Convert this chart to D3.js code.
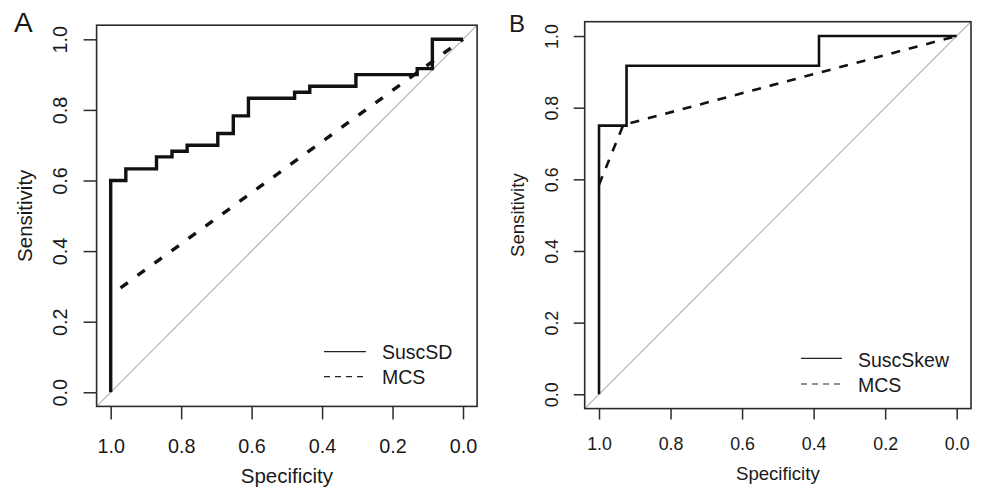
<!DOCTYPE html>
<html>
<head>
<meta charset="utf-8">
<script src="https://cdn.jsdelivr.net/npm/d3@7"></script>
<style>
    body { margin: 0; background: #fff; }
    svg text { font-family: "Liberation Sans", Arial, sans-serif; fill: #1a1a1a; }
</style>
</head>
<body>
<div id="roc"></div>
<script>
"use strict";

/***** data *****/

const tickValues = [1.0, 0.8, 0.6, 0.4, 0.2, 0.0];
const tickLabels = ["1.0", "0.8", "0.6", "0.4", "0.2", "0.0"];

// panel A : SuscSD vs MCS
const suscSdSpec = [1.0, 1.0, 0.957, 0.957, 0.870, 0.870, 0.826, 0.826, 0.783, 0.783, 0.696, 0.696,
                    0.652, 0.652, 0.609, 0.609, 0.478, 0.478, 0.435, 0.435, 0.304, 0.304, 0.130, 0.130,
                    0.087, 0.087, 0.0];
const suscSdSens = [0.0, 0.6, 0.6, 0.633, 0.633, 0.667, 0.667, 0.683, 0.683, 0.70, 0.70, 0.733,
                    0.733, 0.783, 0.783, 0.833, 0.833, 0.850, 0.850, 0.867, 0.867, 0.90, 0.90, 0.917,
                    0.917, 1.0, 1.0];
const mcsASpec = [0.972, 0.0];
const mcsASens = [0.296, 1.0];

// panel B : SuscSkew vs MCS
const suscSkewSpec = [1.0, 1.0, 0.923, 0.923, 0.385, 0.385, 0.0];
const suscSkewSens = [0.0, 0.75, 0.75, 0.917, 0.917, 1.0, 1.0];
const mcsBSpec = [1.0, 0.932, 0.0];
const mcsBSens = [0.585, 0.752, 1.0];

const legendA = ["SuscSD", "MCS"];
const legendB = ["SuscSkew", "MCS"];


/***** plot *****/

let svg = d3.select("#roc")
    .append("svg")
    .attr("width", 981)
    .attr("height", 493);

const panels = [
    {
        letter: "A", letterX: 14, letterY: 32, letterSize: 28,
        x: [96.6, 477.1], y: [406.4, 25.2],
        tickLen: 13, tickFont: 19.8, labelFont: 20.5,
        xTickOff: 46.8, yTickOff: 29.5, xLabOff: 76.5, yLabOff: 65,
        curveW: 3.4, dash: "9,12",
        series: [[suscSdSpec, suscSdSens], [mcsASpec, mcsASens]],
        legend: legendA, legX: [324, 366, 382], legY: [351.7, 376.7], legDy: 7.6, legFont: 19.5
    },
    {
        letter: "B", letterX: 509, letterY: 32, letterSize: 24,
        x: [584.7, 971], y: [408.6, 21.7],
        tickLen: 11, tickFont: 17.8, labelFont: 18.6,
        xTickOff: 41.5, yTickOff: 26.5, xLabOff: 71, yLabOff: 61,
        curveW: 2.6, dash: "9,9",
        series: [[suscSkewSpec, suscSkewSens], [mcsBSpec, mcsBSens]],
        legend: legendB, legX: [801, 842, 858], legY: [358.3, 384], legDy: 8.2, legFont: 19.5
    }
];

panels.forEach(p => drawPanel(p));

function drawPanel(p) {

    let x = d3.scaleLinear().domain([1.04, -0.04]).range(p.x),
        y = d3.scaleLinear().domain([-0.04, 1.04]).range(p.y);

    let g = svg.append("g");

    let clipId = "clip" + p.letter;
    g.append("clipPath")
    .attr("id", clipId)
    .append("rect")
    .attr("x", p.x[0]).attr("y", p.y[1])
    .attr("width", p.x[1] - p.x[0]).attr("height", p.y[0] - p.y[1]);

    // reference diagonal
    g.append("line")
    .attr("clip-path", `url(#${clipId})`)
    .attr("x1", x(1.04)).attr("y1", y(-0.04))
    .attr("x2", x(-0.04)).attr("y2", y(1.04))
    .attr("stroke", "#b4b4b4")
    .attr("stroke-width", 1.2);

    let line = d3.line()
        .x(d => x(d[0]))
        .y(d => y(d[1]));

    p.series.forEach((s, i) => {
        let pts = s[0].map((v, k) => [v, s[1][k]]);
        g.append("path")
        .datum(pts)
        .attr("d", line)
        .attr("fill", "none")
        .attr("stroke", "#111")
        .attr("stroke-width", p.curveW)
        .attr("stroke-linejoin", "miter")
        .attr("stroke-dasharray", i == 1 ? p.dash : null);
    });

    // box
    g.append("rect")
    .attr("x", p.x[0]).attr("y", p.y[1])
    .attr("width", p.x[1] - p.x[0]).attr("height", p.y[0] - p.y[1])
    .attr("fill", "none")
    .attr("stroke", "#2b2b2b")
    .attr("stroke-width", 1.6);

    // x axis
    let gx = g.append("g")
    .attr("transform", `translate(0, ${p.y[0]})`)
    .call(d3.axisBottom(x).tickValues(tickValues)
        .tickFormat((d, i) => tickLabels[i]).tickSize(p.tickLen).tickSizeOuter(0));
    gx.select(".domain").remove();
    gx.selectAll("line").attr("stroke", "#2b2b2b").attr("stroke-width", 1.5);
    gx.selectAll("text")
    .attr("y", p.xTickOff).attr("dy", 0)
    .style("font-size", p.tickFont + "px");

    // y axis
    let gy = g.append("g")
    .attr("transform", `translate(${p.x[0]}, 0)`)
    .call(d3.axisLeft(y).tickValues(tickValues)
        .tickFormat((d, i) => tickLabels[i]).tickSize(p.tickLen).tickSizeOuter(0));
    gy.select(".domain").remove();
    gy.selectAll("line").attr("stroke", "#2b2b2b").attr("stroke-width", 1.5);
    gy.selectAll("text")
    .attr("transform", "rotate(-90)")
    .attr("x", 0).attr("y", -p.yTickOff).attr("dy", 0)
    .attr("text-anchor", "middle")
    .style("font-size", p.tickFont + "px");

    // axis titles
    g.append("text")
    .attr("x", (p.x[0] + p.x[1]) / 2)
    .attr("y", p.y[0] + p.xLabOff)
    .attr("text-anchor", "middle")
    .style("font-size", p.labelFont + "px")
    .text("Specificity");

    g.append("text")
    .attr("transform", `translate(${p.x[0] - p.yLabOff}, ${(p.y[0] + p.y[1]) / 2}) rotate(-90)`)
    .attr("text-anchor", "middle")
    .style("font-size", p.labelFont + "px")
    .text("Sensitivity");

    // panel letter
    g.append("text")
    .attr("x", p.letterX).attr("y", p.letterY)
    .style("font-size", p.letterSize + "px")
    .text(p.letter);

    // legend
    let leg = g.selectAll("g.legend")
    .data(p.legend)
    .enter()
    .append("g")
    .attr("class", "legend")
    .attr("transform", (d, i) => `translate(0, ${p.legY[i]})`);

    leg.append("line")
    .attr("x1", p.legX[0]).attr("x2", p.legX[1])
    .attr("stroke", "#222")
    .attr("stroke-width", 1.2)
    .attr("stroke-dasharray", (d, i) => i == 1 ? "6,5" : null);

    leg.append("text")
    .attr("x", p.legX[2])
    .attr("y", p.legDy)
    .style("font-size", p.legFont + "px")
    .text(d => d);
}
</script>
</body>
</html>
